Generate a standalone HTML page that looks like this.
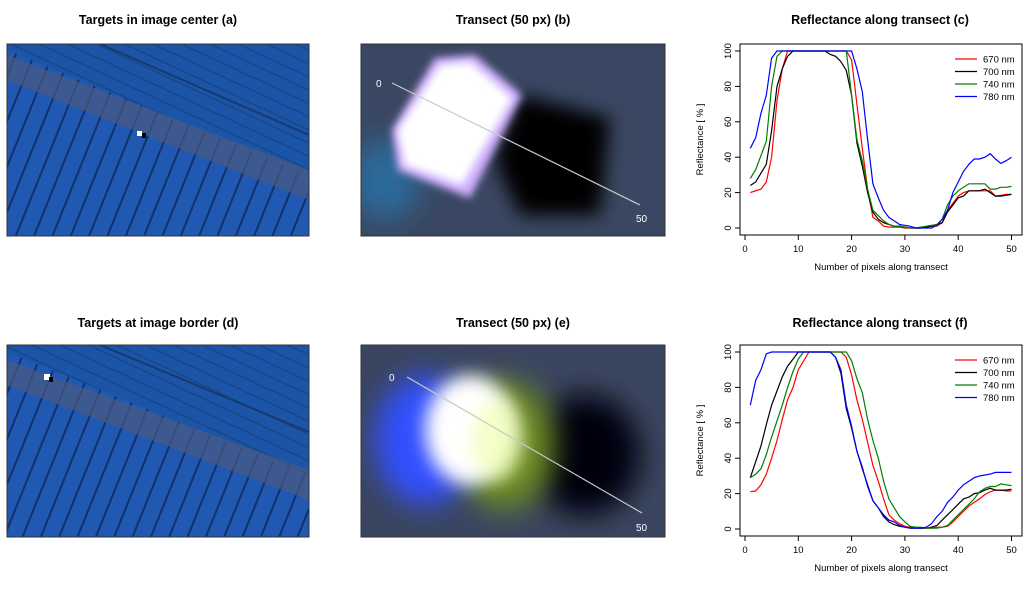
<!DOCTYPE html>
<html><head><meta charset="utf-8">
<style>
body{margin:0;background:#fff;width:1024px;height:593px;overflow:hidden;font-family:"Liberation Sans",sans-serif}
svg{position:absolute;left:0;top:0}
</style></head><body>
<svg id="fig" width="1024" height="593" xmlns="http://www.w3.org/2000/svg" font-family="Liberation Sans, sans-serif">
<defs>
<filter id="bl4" x="-50%" y="-50%" width="200%" height="200%"><feGaussianBlur stdDeviation="4"/></filter>
<filter id="bl8" x="-50%" y="-50%" width="200%" height="200%"><feGaussianBlur stdDeviation="9"/></filter>
<filter id="bl14" x="-80%" y="-80%" width="260%" height="260%"><feGaussianBlur stdDeviation="14"/></filter>
<pattern id="rows" width="17" height="17" patternUnits="userSpaceOnUse" patternTransform="rotate(22)"><rect width="17" height="17" fill="#2159b2"/><rect width="2" height="17" fill="#12306a"/></pattern>
<pattern id="rowsU" width="12" height="12" patternUnits="userSpaceOnUse" patternTransform="rotate(-65)"><rect width="12" height="12" fill="#1c55a8"/><rect width="1.5" height="12" fill="#174788"/></pattern>
<clipPath id="ca"><rect x="7" y="44" width="302" height="192"/></clipPath>
<clipPath id="cb"><rect x="361" y="44" width="304" height="192"/></clipPath>
<clipPath id="cd"><rect x="7" y="345" width="302" height="192"/></clipPath>
<clipPath id="ce"><rect x="361" y="345" width="304" height="192"/></clipPath>
</defs>
<g font-weight="bold" font-size="12.5" text-anchor="middle" fill="#000">
<text x="158" y="24">Targets in image center (a)</text>
<text x="513" y="24">Transect (50 px) (b)</text>
<text x="880" y="24">Reflectance along transect (c)</text>
<text x="158" y="327">Targets at image border (d)</text>
<text x="513" y="327">Transect (50 px) (e)</text>
<text x="880" y="327">Reflectance along transect (f)</text>
</g>
<!-- image a -->
<g clip-path="url(#ca)">
<rect x="7" y="44" width="302" height="192" fill="url(#rows)"/>
<polygon points="7,44 309,44 309,175 7,50" fill="url(#rowsU)"/>
<polygon points="7,55 7,80 309,200 309,170" fill="#4a5a80" opacity="0.7"/>
<line x1="100" y1="44" x2="309" y2="135" stroke="#173a70" stroke-width="2"/>
<rect x="137" y="131" width="5" height="5" fill="#fff"/><rect x="142" y="133" width="4" height="5" fill="#000"/>
</g>
<rect x="7" y="44" width="302" height="192" fill="none" stroke="#333" stroke-width="1"/>
<!-- image d -->
<g clip-path="url(#cd)">
<rect x="7" y="345" width="302" height="192" fill="url(#rows)"/>
<polygon points="7,345 309,345 309,475 7,352" fill="url(#rowsU)"/>
<polygon points="7,360 7,385 309,500 309,470" fill="#4a5a80" opacity="0.7"/>
<line x1="100" y1="345" x2="309" y2="432" stroke="#173a70" stroke-width="2"/>
<rect x="44" y="374" width="6" height="6" fill="#fff"/><rect x="49" y="377" width="4" height="5" fill="#000"/>
</g>
<rect x="7" y="345" width="302" height="192" fill="none" stroke="#333"/>
<!-- image b -->
<g clip-path="url(#cb)">
<rect x="361" y="44" width="304" height="192" fill="#3a4762"/>
<ellipse cx="385" cy="180" rx="35" ry="40" fill="#2b6a9a" filter="url(#bl14)"/>
<polygon points="520,95 610,118 600,215 520,215 495,160" fill="#000" filter="url(#bl8)"/>
<polygon points="435,58 475,55 522,95 470,198 398,170 392,130" fill="#d0b0ff" filter="url(#bl4)"/>
<polygon points="440,65 470,62 512,98 462,185 405,165 398,130" fill="#fff" filter="url(#bl4)"/>
</g>
<rect x="361" y="44" width="304" height="192" fill="none" stroke="#333"/>
<line x1="392" y1="83" x2="640" y2="205" stroke="#c8c8c8" stroke-width="1.2"/>
<text x="376" y="87" font-size="10" fill="#fff">0</text>
<text x="636" y="222" font-size="10" fill="#fff">50</text>
<!-- image e -->
<g clip-path="url(#ce)">
<rect x="361" y="345" width="304" height="192" fill="#3a4560"/>
<ellipse cx="585" cy="455" rx="55" ry="60" fill="#000010" filter="url(#bl14)"/>
<ellipse cx="505" cy="445" rx="50" ry="65" fill="#6a8a20" filter="url(#bl14)"/>
<ellipse cx="425" cy="440" rx="50" ry="65" fill="#3050ff" filter="url(#bl14)"/>
<ellipse cx="470" cy="430" rx="45" ry="55" fill="#fff" filter="url(#bl8)"/>
<ellipse cx="497" cy="440" rx="25" ry="40" fill="#f0ffb0" filter="url(#bl8)" opacity="0.7"/>
</g>
<rect x="361" y="345" width="304" height="192" fill="none" stroke="#333"/>
<line x1="407" y1="377" x2="642" y2="513" stroke="#c8c8c8" stroke-width="1.2"/>
<text x="389" y="381" font-size="10" fill="#fff">0</text>
<text x="636" y="531" font-size="10" fill="#fff">50</text>
<g id="chartC"></g>
<g id="chartF"></g>
</svg>
<script>
const xTicks=[0,10,20,30,40,50];
const yTicks=[0,20,40,60,80,100];
const seriesNames=["670 nm","700 nm","740 nm","780 nm"];
const seriesColors=["#ff0000","#000000","#008000","#0000ff"];
const c670=[20,21,22,26,40,72,90,100,100,100,100,100,100,100,100,100,100,100,100,95,70,45,22,6,4,1,0.5,0.5,0.5,0,0,0,0,0.5,1,1,3,10,14,18,20,21,21,21,21,21,18,18.5,19,19];
const c700=[24,26,31,36,55,80,90,97,100,100,100,100,100,100,100,98,97,94,89,75,48,35,20,9,5,3,2,1,1,0.5,0,0,0,0.5,1,2,3,9,13,17,18,21,21,21,22,20,18,18,18.5,19];
const c740=[28,33,41,49,80,97,100,100,100,100,100,100,100,100,100,100,100,100,100,75,50,38,22,10,7,4,2,1,1,0.5,0,0,0.5,1,1.5,2,5,13,18,21,23,25,25,25,25,22,22,23,23,23.5];
const c780=[45,51,65,75,96,100,100,100,100,100,100,100,100,100,100,100,100,100,100,100,90,77,50,25,17,10,6,4,2,1.5,1,0,0,0,0,1.5,5,10,20,26,32,36,39,39,40,42,39,36.5,38,40];
const f670=[21,21.5,25,31,40,50,62,73,80,90,95,100,100,100,100,100,100,100,97,87,73,62,49,36,27,17,8,5,3,1.5,1,0.5,0.5,0.5,0.5,1,1,1.5,4,7,10,13,15,17,19.5,21,22,22,21.5,21.5];
const f700=[29,38,47,59,70,78,86,92,96,100,100,100,100,100,100,100,97,88,68,57,44,34,25,16,12,7,4,2.5,1.5,1,0.5,0.5,0.5,0.5,1,2,5,8,11,14,17,18,20,20.5,22,23,22,22,22,22.5];
const f740=[29,31,34,42,52,61,70,80,89,96,100,100,100,100,100,100,100,100,100,95,85,77,62,50,40,27,17,12,7,4,1.5,1,1,0.5,0.5,0.5,1,2,5,8,11,14,17,21,23,24,24,25.5,25,24.5];
const f780=[70,84,90,99,100,100,100,100,100,100,100,100,100,100,100,100,97,90,70,58,44,35,24,16,12,8,5,4,2,1,0.5,0.5,0.5,1,3,7,10,15,18,22,25,27,29,30,30.5,31,32,32,32,32];
const NS="http://www.w3.org/2000/svg";
function mk(tag,attrs,parent){const e=document.createElementNS(NS,tag);for(const k in attrs)e.setAttribute(k,attrs[k]);parent.appendChild(e);return e;}
function draw(gid,top,data){
  const g=document.getElementById(gid);
  const L=740,R=1022,T=top,B=top+191;
  const y0=top+184,y100=top+7;
  const sx=v=>745+(v/50)*266.5;
  const sy=v=>y0+(y100-y0)*v/100;
  const box=mk('rect',{x:L,y:T,width:R-L,height:B-T,fill:'none',stroke:'#000','stroke-width':1},g);
  
  
  xTicks.forEach(t=>{
    mk('line',{x1:sx(t),x2:sx(t),y1:B,y2:B+5,stroke:'#000'},g);
    const tx=mk('text',{x:sx(t),y:B+17,'font-size':9.5,'text-anchor':'middle'},g);tx.textContent=t;
    
    
  });
  yTicks.forEach(t=>{
    mk('line',{x1:L,x2:L-5,y1:sy(t),y2:sy(t),stroke:'#000'},g);
    const tx=mk('text',{x:L-9,y:sy(t),'font-size':9.5,'text-anchor':'middle',transform:`rotate(-90 ${L-9} ${sy(t)})`},g);tx.textContent=t;
    
    
  });
  const xt=mk('text',{x:(L+R)/2,y:B+35,'font-size':9.5,'text-anchor':'middle'},g);xt.textContent='Number of pixels along transect';
  
  
  const yc=(T+B)/2;
  const yt=mk('text',{x:703,y:yc,'font-size':9.5,'text-anchor':'middle',transform:`rotate(-90 703 ${yc})`},g);yt.textContent='Reflectance [ % ]';
  
  
  data.forEach((arr,i)=>{
    const pts=arr.map((v,j)=>sx(j+1).toFixed(1)+','+sy(v).toFixed(1)).join(' ');
    const pl=mk('polyline',{points:pts,fill:'none',stroke:seriesColors[i],'stroke-width':1.2},g);
    
    
    const ly=top+15+i*12.5;
    const ll=mk('line',{x1:955,x2:977,y1:ly,y2:ly,stroke:seriesColors[i],'stroke-width':1.2},g);
    
    
    const lt=mk('text',{x:983,y:ly+3.5,'font-size':9.5},g);lt.textContent=seriesNames[i];
    
    
  });
}
draw('chartC',44,[c670,c700,c740,c780]);
draw('chartF',345,[f670,f700,f740,f780]);
</script>
</body></html>
